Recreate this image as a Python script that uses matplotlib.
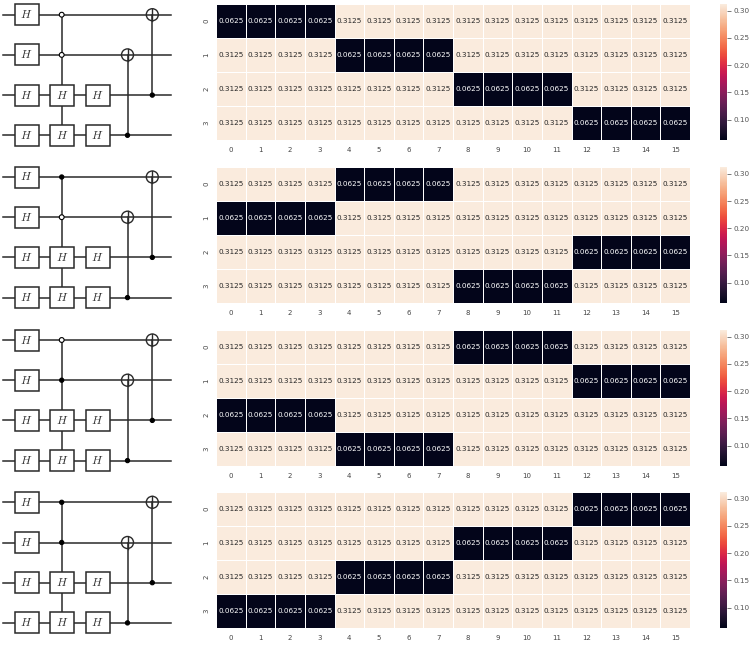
import matplotlib
matplotlib.use("Agg")
from matplotlib import pyplot as plt
from matplotlib.patches import Circle, Rectangle
import numpy as np
import seaborn as sns

plt.rcParams["mathtext.fontset"] = "cm"

L = 0.0625
H = 0.3125

# one table per circuit, rows are the 4 outcomes, columns the 16 inputs
table0 = [[L, L, L, L, H, H, H, H, H, H, H, H, H, H, H, H],
          [H, H, H, H, L, L, L, L, H, H, H, H, H, H, H, H],
          [H, H, H, H, H, H, H, H, L, L, L, L, H, H, H, H],
          [H, H, H, H, H, H, H, H, H, H, H, H, L, L, L, L]]
table1 = [[H, H, H, H, L, L, L, L, H, H, H, H, H, H, H, H],
          [L, L, L, L, H, H, H, H, H, H, H, H, H, H, H, H],
          [H, H, H, H, H, H, H, H, H, H, H, H, L, L, L, L],
          [H, H, H, H, H, H, H, H, L, L, L, L, H, H, H, H]]
table2 = [[H, H, H, H, H, H, H, H, L, L, L, L, H, H, H, H],
          [H, H, H, H, H, H, H, H, H, H, H, H, L, L, L, L],
          [L, L, L, L, H, H, H, H, H, H, H, H, H, H, H, H],
          [H, H, H, H, L, L, L, L, H, H, H, H, H, H, H, H]]
table3 = [[H, H, H, H, H, H, H, H, H, H, H, H, L, L, L, L],
          [H, H, H, H, H, H, H, H, L, L, L, L, H, H, H, H],
          [H, H, H, H, L, L, L, L, H, H, H, H, H, H, H, H],
          [L, L, L, L, H, H, H, H, H, H, H, H, H, H, H, H]]
tables = [table0, table1, table2, table3]

# whether the two control dots on the top wires are open circles
openControls = [(True, True), (False, True), (True, False), (False, False)]

# top pixel of each panel's heatmap
panelTops = [4, 167, 330, 492]
panelHeight = 136
wireTops = [14.7, 177, 340, 502.3]
wireGap = 40.2

W, Ht = 756, 650
fig = plt.figure(figsize=(W / 100, Ht / 100), dpi=100)
lineColor = "#2a2a2a"

def pixelAxes(x0, y0, x1, y1):
    return fig.add_axes([x0 / W, 1 - y1 / Ht, (x1 - x0) / W, (y1 - y0) / Ht])

def hBox(ax, x, y):
    ax.add_patch(Rectangle((x - 12, y - 10.5), 24, 21, facecolor="white",
                           edgecolor=lineColor, lw=1.1, zorder=3))
    ax.text(x, y, "$H$", ha="center", va="center", fontsize=8.5,
            color="#333333", zorder=4)

def dot(ax, x, y, isOpen=False):
    radius = 2.4 if isOpen else 2.1
    ax.add_patch(Circle((x, y), radius, facecolor="white" if isOpen else "black",
                        edgecolor="black", lw=0.8, zorder=3))

def target(ax, x, y):
    ax.add_patch(Circle((x, y), 6, facecolor="none", edgecolor=lineColor,
                        lw=1.0, zorder=3))
    ax.plot([x, x], [y - 6, y + 6], color=lineColor, lw=1.0, zorder=3)

def drawCircuit(ax, wireYs, controls):
    for y in wireYs:
        ax.plot([3, 171], [y, y], color=lineColor, lw=1.1, zorder=1)
    # multi controlled H
    ax.plot([61.7, 61.7], [wireYs[0], wireYs[3]], color=lineColor, lw=1.1, zorder=2)
    # the two CNOTs
    ax.plot([127.5, 127.5], [wireYs[1], wireYs[3]], color=lineColor, lw=1.1, zorder=2)
    ax.plot([152.3, 152.3], [wireYs[0], wireYs[2]], color=lineColor, lw=1.1, zorder=2)
    for y in wireYs:
        hBox(ax, 26.7, y)
    for y in wireYs[2:]:
        hBox(ax, 62, y)
        hBox(ax, 97.5, y)
    dot(ax, 61.7, wireYs[0], controls[0])
    dot(ax, 61.7, wireYs[1], controls[1])
    target(ax, 127.5, wireYs[1])
    dot(ax, 127.5, wireYs[3])
    target(ax, 152.3, wireYs[0])
    dot(ax, 152.3, wireYs[2])

# the circuits all share one overlay axes in pixel coordinates
overlay = pixelAxes(0, 0, 205, Ht)
overlay.set_xlim(0, 205)
overlay.set_ylim(Ht, 0)
overlay.axis("off")

for table, controls, top, wireTop in zip(tables, openControls, panelTops, wireTops):
    wireYs = [wireTop + i * wireGap for i in range(4)]
    drawCircuit(overlay, wireYs, controls)

    ax = pixelAxes(216, top, 690, top + panelHeight)
    cax = pixelAxes(720, top, 727, top + panelHeight)
    sns.heatmap(np.array(table), ax=ax, cbar_ax=cax, annot=True, fmt=".4f",
                linewidths=0.6, annot_kws={"fontsize": 5.2})
    ax.tick_params(length=0, labelsize=5, labelcolor="#444444", pad=5)
    cax.tick_params(length=3, width=0.5, labelsize=5.2, color="#444444",
                    labelcolor="#555555", pad=2)
    cax.set_yticks([0.10, 0.15, 0.20, 0.25, 0.30])

fig.savefig("out.png", dpi=100)
